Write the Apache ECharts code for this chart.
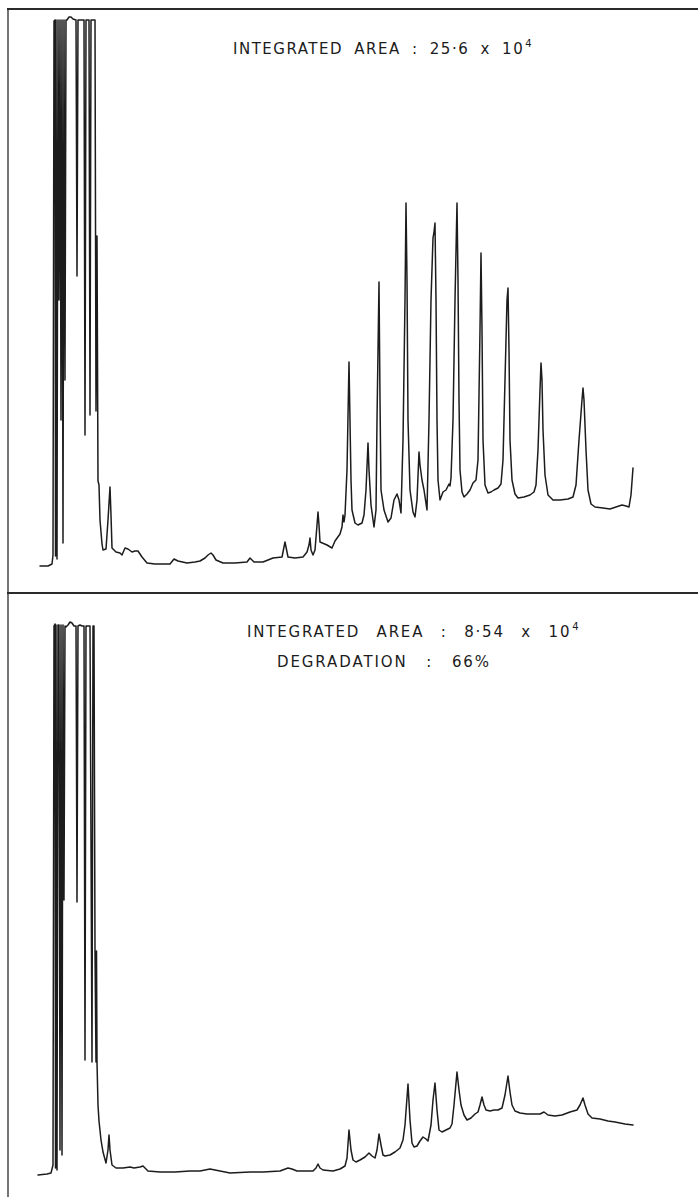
<!DOCTYPE html>
<html><head><meta charset="utf-8">
<script src="https://cdn.jsdelivr.net/npm/echarts@6/dist/echarts.min.js"></script>
<style>
html,body{margin:0;padding:0;background:#fff;}
#chart{width:698px;height:1197px;}
</style></head><body><div id="chart"></div>
<script>
// Retention position (chart-paper units) and detector signal (chart-paper units)
const topTime = [40,48,52,53,54,55,55.5,56,57,58,59,60,61,62,63,64,65,66,67,69,71,73,76,77,78,84,85,86,89,90,91,95,96,97,98,99,100,102,103,106,108,110,111,112,116,120,122,125,128,132,135,138,140,142,147,155,170,174,178,187,195,200,205,208,211,213,216,223,235,247,250,254,263,268,273,282,285,288,295,303,307,309,310,311,313,315,317,318,319,320,327,332,335,340,342,343,344,345,347,349,351,352,355,358,362,364,366,368,369,371,374,376,377,379,380,381,384,388,391,394,397,399,401,403,405,406,407,408,410,413,415,417,419,420,422,424,427,429,431,433,434,435,436,437,438,440,443,446,449,450,451,453,455,457,458,459,460,462,464,467,470,473,476,478,480,481,482,483,485,488,491,494,498,501,503,505,507,508,509,510,512,515,518,524,530,534,536,538,540,541,542,543,545,548,553,560,568,573,576,579,582,583,584,586,588,591,595,603,610,616,622,626,629,631,633];
const topSignal = [27,27,29,38,572,573,37,573,34,573,293,573,173,573,50,573,213,573,573,576,576,574,573,317,573,573,158,573,573,178,573,573,182,357,112,108,73,49,43,44,73,106,78,45,41,40,38,45,44,41,42,42,39,36,30,29,29,34,32,30,31,32,35,38,40,38,33,30,30,31,35,31,31,33,35,36,51,36,35,36,41,48,55,43,38,43,68,81,68,51,48,45,52,59,66,78,71,78,123,231,113,83,70,68,70,78,103,150,123,88,66,83,173,311,193,103,83,71,75,93,99,93,80,153,293,390,313,173,103,81,76,93,141,128,113,103,83,173,293,355,361,370,293,173,113,93,101,103,109,107,115,173,293,390,313,193,123,101,96,99,103,110,113,133,263,340,263,153,108,100,101,103,105,109,133,213,293,305,243,153,113,99,95,96,98,101,108,143,203,230,213,163,118,98,93,93,94,96,108,153,193,205,193,143,103,89,86,85,84,86,88,87,86,98,125];
const bottomTime = [38,47,51,53,54,55,55.5,56,57,58,59,60,61,62,63,64,65,66,68,70,72,74,76,77,78,80,82,84,85,86,88,90,92,93,94,95,96,96.5,97,98,99,101,103,106,108,109,110,112,116,123,130,134,140,143,148,160,175,190,200,210,215,230,250,263,280,288,292,297,313,316,318,320,323,333,340,345,347,349,351,353,356,360,365,369,372,375,377,379,381,383,385,390,395,400,403,405,408,410,412,414,417,420,423,426,428,431,433,435,437,439,442,446,450,452,454,457,459,461,464,467,471,475,478,480,482,484,486,490,494,498,502,505,508,510,512,515,520,527,535,540,544,548,555,562,570,577,580,583,585,588,592,600,608,615,625,633];
const bottomSignal = [22,23,24,32,571,573,29,572,27,572,572,47,572,42,572,297,571,570,572,575,574,571,571,295,571,572,571,571,137,571,571,571,135,571,571,246,135,246,135,92,76,57,45,34,47,62,47,32,29,29,30,29,30,31,26,25,25,26,26,28,27,24,25,25,26,29,28,26,26,29,33,29,27,26,28,31,39,67,47,37,35,37,40,44,41,39,47,63,52,42,41,42,45,49,57,72,113,77,54,50,51,56,60,58,56,72,97,114,87,67,65,67,69,73,92,125,107,92,82,77,79,83,85,92,100,92,87,86,87,87,89,102,121,105,92,86,84,83,83,83,85,82,81,82,85,87,92,99,92,83,79,78,76,75,73,72];
const topLabel = 'INTEGRATED AREA : 25·6 x 10';
const topLabelExp = '4';
const bottomLabel = 'INTEGRATED AREA : 8·54 x 10';
const bottomLabelExp = '4';
const degradationLabel = 'DEGRADATION : 66%';

const FAMILY = '"DejaVu Sans", sans-serif';
const spacing = {};
function measure(str, size, ls, ws) {
  const c = document.createElement('canvas').getContext('2d');
  c.font = size + 'px ' + FAMILY;
  const native = ('letterSpacing' in c) && ('wordSpacing' in c);
  if (native) { c.letterSpacing = ls + 'px'; c.wordSpacing = ws + 'px'; }
  let w = c.measureText(str).width;
  if (!native) w += ls * str.length + ws * (str.split(' ').length - 1);
  return w;
}
const ink = '#1c1c1c';
const chart = echarts.init(document.getElementById('chart'), null, {renderer: 'svg', width: 698, height: 1197});
const pair = (t, s) => t.map((v, i) => [v, s[i]]);
const lineStyle = {color: ink, width: 1.5, join: 'round', cap: 'round'};
function label(x, y, text, exp, size, ls, ws) {
  spacing[text] = [ls, ws];
  const els = [{type: 'text', x: x, y: y, z: 10, style: {text: text, font: size + 'px ' + FAMILY, fill: ink, align: 'left', verticalAlign: 'middle'}}];
  if (exp) els.push({type: 'text', x: x + measure(text, size, ls, ws) + 1, y: y - 6, z: 10, style: {text: exp, font: '10px ' + FAMILY, fill: ink, align: 'left', verticalAlign: 'middle'}});
  return els;
}
chart.setOption({
  animation: false,
  backgroundColor: '#ffffff',
  grid: [
    {left: 0, right: 0, top: 9, height: 584},
    {left: 0, right: 0, top: 593, height: 604}
  ],
  xAxis: [
    {type: 'value', gridIndex: 0, min: 0, max: 698, show: false},
    {type: 'value', gridIndex: 1, min: 0, max: 698, show: false}
  ],
  yAxis: [
    {type: 'value', gridIndex: 0, min: 0, max: 584, show: false},
    {type: 'value', gridIndex: 1, min: 0, max: 604, show: false}
  ],
  series: [
    {type: 'line', xAxisIndex: 0, yAxisIndex: 0, data: pair(topTime, topSignal), showSymbol: false, silent: true, lineStyle: lineStyle, clip: false},
    {type: 'line', xAxisIndex: 1, yAxisIndex: 1, data: pair(bottomTime, bottomSignal), showSymbol: false, silent: true, lineStyle: lineStyle, clip: false}
  ],
  graphic: [
    {type: 'line', shape: {x1: 7, y1: 9, x2: 698, y2: 9}, style: {stroke: '#2a2a2a', lineWidth: 2}},
    {type: 'line', shape: {x1: 8, y1: 9, x2: 8, y2: 1197}, style: {stroke: '#2a2a2a', lineWidth: 1.3}},
    {type: 'line', shape: {x1: 7, y1: 593, x2: 698, y2: 593}, style: {stroke: '#2a2a2a', lineWidth: 1.8}}
  ].concat(label(233, 49, topLabel, topLabelExp, 15, 1.5, 5))
   .concat(label(247, 632, bottomLabel, bottomLabelExp, 15, 1.8, 10))
   .concat(label(277, 662, degradationLabel, null, 15, 1.9, 12))
});
function applySpacing() {
  document.querySelectorAll('#chart svg text').forEach(function (el) {
    const s = spacing[el.textContent];
    if (s) { el.style.letterSpacing = s[0] + 'px'; el.style.wordSpacing = s[1] + 'px'; }
  });
}
applySpacing();
chart.on('finished', applySpacing);
</script>
</body></html>
